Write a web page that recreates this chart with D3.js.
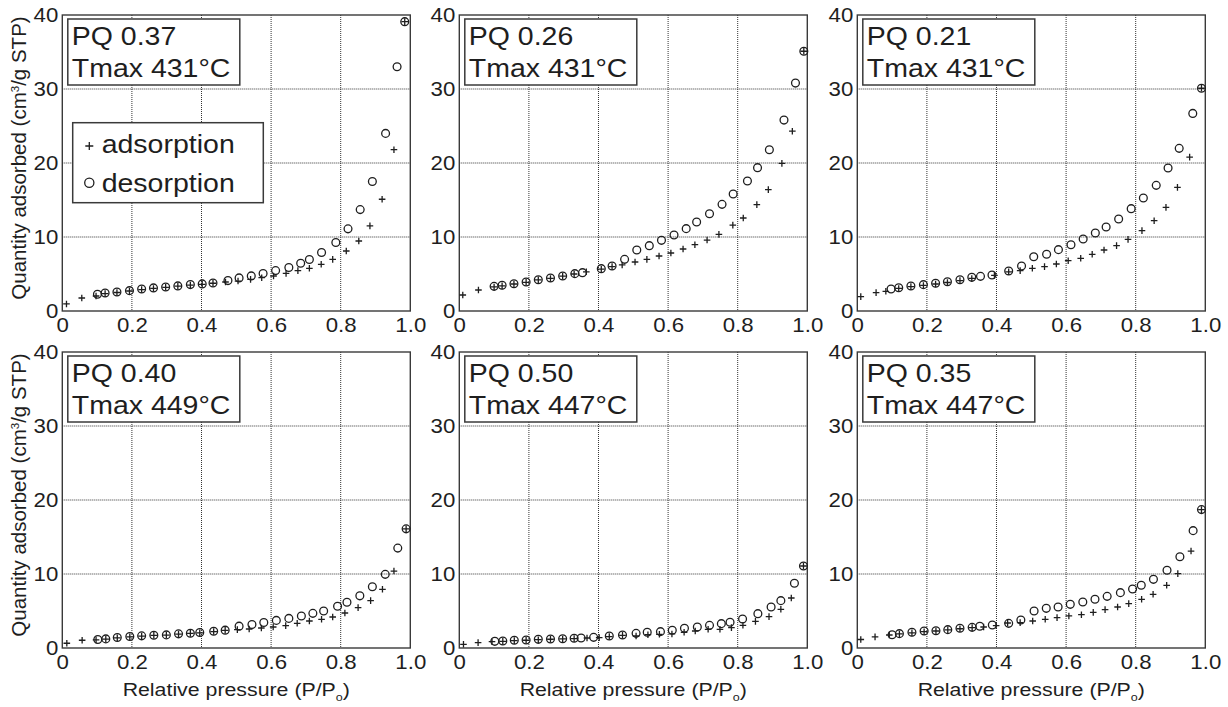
<!DOCTYPE html>
<html>
<head>
<meta charset="utf-8">
<script src="https://cdn.jsdelivr.net/npm/d3@7"></script>
<style>
  body { margin: 0; background: #fff; }
  text { font-family: "Liberation Sans", Arial, sans-serif; fill: #1e1e1e; }
</style>
</head>
<body>
<div class="visHolder"></div>
<script>
var width = 1228,
  height = 707,
  plotW = 348,
  plotH = 296;

var colX = [62.3, 459.3, 857.3],
  rowY = [15, 352];
var SX = 1.14; // the source figure is a bit wider than plain Arial

var xTicks = [0, 0.2, 0.4, 0.6, 0.8, 1.0];
var yTicks = [0, 10, 20, 30, 40];
var pqLabels = ["0.37", "0.26", "0.21", "0.40", "0.50", "0.35"];
var tmaxLabels = ["431", "431", "431", "449", "447", "447"];
var legendLabels = ["adsorption", "desorption"];

// panel 1 : PQ 0.37
var ads1X = [0.012,0.056,0.097,0.123,0.157,0.193,0.228,0.262,0.297,0.332,0.368,0.402,0.433,0.469,0.505,0.541,0.573,0.607,0.643,0.677,0.710,0.744,0.777,0.816,0.852,0.884,0.919,0.953,0.984];
var ads1Y = [0.95,1.76,2.03,2.35,2.5,2.7,2.9,3.05,3.2,3.35,3.5,3.6,3.75,3.92,4.05,4.28,4.5,4.73,5.09,5.45,5.77,6.31,6.98,8.11,9.46,11.5,15.1,21.8,39.1];
var des1X = [0.101,0.123,0.157,0.193,0.228,0.262,0.297,0.332,0.368,0.402,0.433,0.476,0.508,0.543,0.577,0.613,0.651,0.685,0.710,0.745,0.786,0.821,0.856,0.891,0.929,0.962,0.984];
var des1Y = [2.26,2.44,2.57,2.75,2.98,3.12,3.25,3.39,3.57,3.66,3.79,4.11,4.47,4.74,5.06,5.46,5.87,6.46,6.95,7.90,9.26,11.1,13.7,17.5,24.0,33.0,39.1];

// panel 2 : PQ 0.26
var ads2X = [0.010,0.055,0.100,0.123,0.157,0.192,0.227,0.262,0.297,0.330,0.365,0.408,0.439,0.468,0.505,0.539,0.574,0.608,0.643,0.677,0.712,0.746,0.786,0.816,0.855,0.888,0.927,0.957,0.990];
var ads2Y = [2.16,2.84,3.25,3.4,3.65,3.88,4.2,4.4,4.7,5.0,5.3,5.65,6.0,6.22,6.62,6.98,7.43,7.84,8.38,8.96,9.59,10.36,11.6,12.57,14.37,16.4,19.95,24.3,35.1];
var des2X = [0.100,0.123,0.157,0.192,0.227,0.262,0.297,0.332,0.354,0.408,0.439,0.475,0.510,0.546,0.581,0.617,0.652,0.682,0.719,0.755,0.787,0.828,0.857,0.891,0.933,0.966,0.990];
var des2Y = [3.33,3.47,3.69,3.92,4.23,4.46,4.73,5.05,5.18,5.72,6.08,6.98,8.24,8.83,9.55,10.27,11.13,12.03,13.15,14.41,15.81,17.57,19.37,21.8,25.8,30.8,35.1];

// panel 3 : PQ 0.21
var ads3X = [0.010,0.054,0.082,0.119,0.154,0.190,0.225,0.259,0.295,0.329,0.394,0.435,0.468,0.503,0.538,0.572,0.606,0.642,0.675,0.709,0.745,0.778,0.818,0.853,0.887,0.920,0.955,0.989];
var ads3Y = [1.94,2.48,2.66,3.05,3.3,3.45,3.65,3.85,4.1,4.4,4.82,5.3,5.45,5.77,5.99,6.35,6.80,7.12,7.66,8.24,8.83,9.68,10.86,12.2,14.0,16.7,20.8,30.1];
var des3X = [0.097,0.119,0.154,0.190,0.225,0.259,0.295,0.329,0.354,0.387,0.435,0.472,0.507,0.544,0.578,0.614,0.649,0.684,0.715,0.751,0.787,0.822,0.859,0.893,0.925,0.964,0.989];
var des3Y = [2.97,3.15,3.38,3.56,3.74,3.96,4.23,4.55,4.68,4.86,5.41,6.08,7.34,7.66,8.29,8.96,9.73,10.54,11.35,12.43,13.83,15.27,16.98,19.32,21.98,26.7,30.1];

// panel 4 : PQ 0.40
var ads4X = [0.013,0.057,0.097,0.125,0.158,0.194,0.228,0.263,0.299,0.334,0.368,0.395,0.435,0.468,0.503,0.537,0.572,0.606,0.642,0.675,0.710,0.745,0.777,0.812,0.850,0.886,0.920,0.953,0.988];
var ads4Y = [0.64,1.05,1.1,1.2,1.38,1.5,1.6,1.7,1.75,1.88,1.97,2.05,2.22,2.38,2.48,2.57,2.7,2.84,3.02,3.34,3.65,3.88,4.19,4.73,5.46,6.4,7.93,10.4,16.1];
var des4X = [0.102,0.125,0.158,0.194,0.228,0.263,0.299,0.334,0.368,0.395,0.435,0.468,0.508,0.545,0.579,0.615,0.651,0.687,0.720,0.751,0.791,0.818,0.855,0.891,0.928,0.964,0.988];
var des4Y = [1.14,1.23,1.41,1.55,1.64,1.73,1.77,1.91,2.0,2.09,2.27,2.41,2.95,3.18,3.45,3.73,4.0,4.32,4.68,5.0,5.64,6.18,7.05,8.27,9.95,13.5,16.1];

// panel 5 : PQ 0.50
var ads5X = [0.012,0.054,0.094,0.125,0.158,0.192,0.227,0.262,0.297,0.330,0.367,0.402,0.431,0.469,0.508,0.542,0.575,0.611,0.646,0.678,0.715,0.749,0.782,0.815,0.851,0.890,0.924,0.954,0.989];
var ads5Y = [0.5,0.72,0.85,0.9,1.0,1.05,1.12,1.18,1.22,1.27,1.35,1.4,1.55,1.7,1.62,1.8,1.85,1.9,2.12,2.3,2.53,2.53,2.75,3.07,3.6,4.24,5.23,6.76,11.08];
var des5X = [0.102,0.125,0.158,0.192,0.227,0.262,0.297,0.330,0.350,0.386,0.431,0.469,0.508,0.540,0.578,0.612,0.647,0.684,0.719,0.753,0.778,0.814,0.858,0.896,0.924,0.963,0.989];
var des5Y = [0.9,0.95,1.04,1.08,1.17,1.22,1.26,1.31,1.35,1.44,1.62,1.76,1.98,2.12,2.21,2.39,2.66,2.84,3.06,3.29,3.47,3.92,4.64,5.54,6.4,8.74,11.08];

// panel 6 : PQ 0.35
var ads6X = [0.010,0.051,0.092,0.121,0.157,0.192,0.226,0.260,0.295,0.330,0.363,0.399,0.432,0.468,0.504,0.540,0.574,0.608,0.644,0.678,0.712,0.748,0.780,0.817,0.850,0.889,0.921,0.959,0.989];
var ads6Y = [1.15,1.5,1.76,1.9,2.05,2.2,2.3,2.45,2.6,2.75,2.84,3.02,3.38,3.43,3.65,3.88,4.1,4.33,4.5,4.82,5.18,5.54,6.0,6.58,7.26,8.47,10.05,13.1,18.7];
var des6X = [0.100,0.121,0.157,0.192,0.226,0.260,0.295,0.330,0.352,0.388,0.435,0.470,0.508,0.543,0.577,0.612,0.648,0.683,0.718,0.756,0.791,0.816,0.851,0.890,0.927,0.965,0.989];
var des6Y = [1.8,1.94,2.12,2.3,2.34,2.48,2.66,2.79,2.93,3.11,3.33,3.78,5.0,5.36,5.54,5.9,6.22,6.58,6.98,7.48,7.97,8.47,9.28,10.5,12.34,15.86,18.7];

var adsX = [ads1X, ads2X, ads3X, ads4X, ads5X, ads6X];
var adsY = [ads1Y, ads2Y, ads3Y, ads4Y, ads5Y, ads6Y];
var desX = [des1X, des2X, des3X, des4X, des5X, des6X];
var desY = [des1Y, des2Y, des3Y, des4Y, des5Y, des6Y];

var plusPath = function (s) { return "M" + (-s) + ",0H" + s + "M0," + (-s) + "V" + s; };

// stretch text horizontally around its own anchor
function stretch(sel) {
  sel.attr("transform", function () {
    var x = +this.getAttribute("x") || 0;
    return "translate(" + (x - SX * x) + ",0) scale(" + SX + ",1)";
  });
}

var svgContainer = d3.select(".visHolder").append("svg").attr("width", width).attr("height", height);

var xScale = d3.scaleLinear().domain([0, 1]).range([0, plotW]);
var yScale = d3.scaleLinear().domain([0, 40]).range([plotH, 0]);
var fmtX = function (d) { return d === 0 ? "0" : d3.format(".1f")(d); };

for (var i = 0; i < 6; i++) {
  var col = i % 3, row = Math.floor(i / 3);
  var g = svgContainer.append("g").attr("transform", "translate(" + colX[col] + "," + rowY[row] + ")");

  // dotted grid
  g.append("g").selectAll("line").data(xTicks.slice(1, -1)).enter().append("line")
    .attr("x1", d => xScale(d)).attr("x2", d => xScale(d))
    .attr("y1", 0).attr("y2", plotH)
    .attr("stroke", "#333").attr("stroke-width", 1).attr("stroke-dasharray", "1,1");
  g.append("g").selectAll("line").data(yTicks.slice(1, -1)).enter().append("line")
    .attr("y1", d => yScale(d)).attr("y2", d => yScale(d))
    .attr("x1", 0).attr("x2", plotW)
    .attr("stroke", "#333").attr("stroke-width", 1).attr("stroke-dasharray", "1,1");

  var xAxis = d3.axisBottom(xScale).tickValues(xTicks).tickFormat(fmtX).tickSize(0).tickPadding(7);
  var ax = g.append("g").attr("transform", "translate(0," + plotH + ")").call(xAxis);
  ax.select(".domain").remove();
  ax.selectAll("text").style("font-size", "19.5px").attr("fill", "#1e1e1e").call(stretch);

  var yAxis = d3.axisLeft(yScale).tickValues(yTicks).tickSize(0).tickPadding(4);
  var ay = g.append("g").call(yAxis);
  ay.select(".domain").remove();
  ay.selectAll("text").style("font-size", "19.5px").attr("fill", "#1e1e1e").call(stretch);

  // frame
  g.append("rect").attr("width", plotW).attr("height", plotH)
    .attr("fill", "none").attr("stroke", "#3a3a3a").attr("stroke-width", 1.4);

  // desorption circles
  g.append("g").selectAll("circle").data(d3.zip(desX[i], desY[i])).enter().append("circle")
    .attr("cx", d => xScale(d[0])).attr("cy", d => yScale(d[1])).attr("r", 3.9)
    .attr("fill", "none").attr("stroke", "#1e1e1e").attr("stroke-width", 1.3);

  // adsorption plus marks
  g.append("g").selectAll("path").data(d3.zip(adsX[i], adsY[i])).enter().append("path")
    .attr("transform", d => "translate(" + xScale(d[0]) + "," + yScale(d[1]) + ")")
    .attr("d", plusPath(3.3))
    .attr("stroke", "#1e1e1e").attr("stroke-width", 1.3);

  // label box
  g.append("rect").attr("x", 5.5).attr("y", 4).attr("width", 172).attr("height", 66)
    .attr("fill", "#fff").attr("stroke", "#3a3a3a").attr("stroke-width", 1.5);
  g.append("text").attr("x", 9.5).attr("y", 30).style("font-size", "25px")
    .text("PQ " + pqLabels[i]).call(stretch);
  g.append("text").attr("x", 9.5).attr("y", 62).style("font-size", "25px")
    .text("Tmax " + tmaxLabels[i] + "°C").call(stretch);

  if (col === 0) {
    var yl = g.append("text")
      .attr("transform", "translate(-36.5," + (plotH / 2 - 5) + ") rotate(-90)")
      .attr("text-anchor", "middle").style("font-size", "20.5px");
    yl.append("tspan").text("Quantity adsorbed (cm");
    yl.append("tspan").attr("dy", -7).style("font-size", "11.5px").text("3");
    yl.append("tspan").attr("dy", 7).text("/g STP)");
  }
  if (row === 1) {
    var xl = g.append("text").attr("x", plotW / 2).attr("y", plotH + 48.5)
      .attr("text-anchor", "middle").style("font-size", "18.7px");
    xl.append("tspan").text("Relative pressure (P/P");
    xl.append("tspan").attr("dy", 5).style("font-size", "11px").text("o");
    xl.append("tspan").attr("dy", -5).text(")");
    xl.call(stretch);
  }

  if (i === 0) {
    var lg = g.append("g").attr("id", "legend");
    lg.append("rect").attr("x", 10.4).attr("y", 107.7).attr("width", 190.6).attr("height", 80)
      .attr("fill", "#fff").attr("stroke", "#3a3a3a").attr("stroke-width", 1.5);
    lg.append("path").attr("transform", "translate(27,131)").attr("d", plusPath(4))
      .attr("stroke", "#1e1e1e").attr("stroke-width", 1.3);
    lg.append("circle").attr("cx", 27).attr("cy", 167.7).attr("r", 4.6)
      .attr("fill", "none").attr("stroke", "#1e1e1e").attr("stroke-width", 1.3);
    lg.selectAll("text.leg").data(legendLabels).enter().append("text").attr("class", "leg")
      .attr("x", 39.4).attr("y", (d, k) => 138.3 + k * 38.4)
      .style("font-size", "25px").text(d => d).call(stretch);
  }
}
</script>
</body>
</html>
